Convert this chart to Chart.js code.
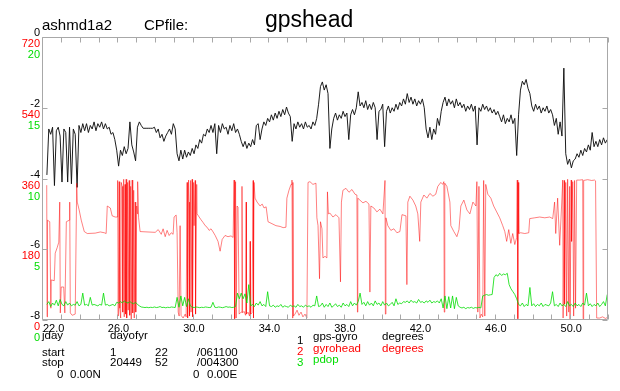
<!DOCTYPE html>
<html>
<head>
<meta charset="utf-8">
<script src="https://cdn.jsdelivr.net/npm/chart.js@4.4.1/dist/chart.umd.min.js"></script>
<style>
  html, body { margin: 0; padding: 0; background: #fff; }
  #wrap { position: relative; width: 620px; height: 391px; font-family: "Liberation Sans", Arial, Helvetica, sans-serif; }
  #wrap canvas { position: absolute; left: 0; top: 0; }
  .t { position: absolute; white-space: pre; line-height: 1; font-size: 11.5px; color: #000; }
  .red { color: #f00; }
  .grn { color: #0d0; }
</style>
</head>
<body>
<div id="wrap">
  <canvas id="chart" width="620" height="391"></canvas>

  <div class="t" style="left:42px;top:17px;font-size:15px">ashmd1a2</div>
  <div class="t" style="left:144px;top:17px;font-size:15px">CPfile:</div>
  <div class="t" style="left:265px;top:8px;font-size:23px">gpshead</div>

  <div class="t" style="left:42px;top:330px">jday</div>
  <div class="t" style="left:110px;top:330px">dayofyr</div>
  <div class="t" style="left:42px;top:347px">start</div>
  <div class="t" style="left:110px;top:347px">1</div>
  <div class="t" style="left:155px;top:347px">22</div>
  <div class="t" style="left:197px;top:347px">/061100</div>
  <div class="t" style="left:42px;top:357px">stop</div>
  <div class="t" style="left:110px;top:357px">20449</div>
  <div class="t" style="left:155px;top:357px">52</div>
  <div class="t" style="left:197px;top:357px">/004300</div>
  <div class="t" style="left:57px;top:369px">0</div>
  <div class="t" style="left:70px;top:369px">0.00N</div>
  <div class="t" style="left:193px;top:369px">0</div>
  <div class="t" style="left:207px;top:369px">0.00E</div>

  <div class="t" style="left:297px;top:335px">1</div>
  <div class="t" style="left:313px;top:331px">gps-gyro</div>
  <div class="t" style="left:382px;top:331px">degrees</div>
  <div class="t red" style="left:297px;top:346px">2</div>
  <div class="t red" style="left:313px;top:343px">gyrohead</div>
  <div class="t red" style="left:382px;top:343px">degrees</div>
  <div class="t grn" style="left:297px;top:357px">3</div>
  <div class="t grn" style="left:313px;top:354px">pdop</div>
</div>
<script>
// sample grid for gps-gyro and pdop (decimal day of year)
const dayStart = 22.26;
const dayStep = 0.1;

// gps-gyro, degrees, one value per 0.1 day
const gpsGyro = [
  -3.9, -2.6, -2.75, -2.55, -4.2, -2.65, -2.55, -2.8, -4.1, -2.6,
  -2.7, -4.1, -2.55, -4.15, -2.6, -2.75, -4.25, -2.5, -2.7, -2.45,
  -2.65, -2.45, -2.7, -2.5, -2.6, -2.4, -2.65, -2.45, -2.55, -2.4,
  -2.6, -2.45, -2.6, -2.55, -2.75, -2.7, -2.9, -3.2, -3.65, -3.2,
  -3.35, -3.1, -3.3, -3.15, -2.4, -3.05, -3.25, -3.5, -2.55, -2.4,
  -2.5, -2.58, -2.58, -2.58, -2.58, -2.58, -2.58, -2.55, -2.7, -2.6,
  -2.85, -2.75, -2.95, -2.8, -2.7, -2.6, -2.75, -2.45, -2.6, -3.3,
  -3.5, -3.2, -3.45, -3.2, -3.4, -3.25, -3.35, -3.15, -3.3, -3.05,
  -3.15, -2.9, -3.0, -2.75, -2.8, -2.6, -2.7, -2.5, -2.7, -2.45,
  -3.3, -2.5, -2.7, -2.45, -2.6, -2.55, -2.75, -2.5, -2.65, -2.45,
  -2.7, -2.6, -2.75, -2.95, -3.1, -2.95, -3.15, -3.0, -3.1, -2.9,
  -3.05, -2.5, -2.45, -2.9, -2.6, -2.4, -2.5, -2.3, -2.4, -2.2,
  -2.35, -2.15, -2.3, -2.1, -2.25, -2.05, -2.2, -1.98, -2.15, -2.25,
  -2.95, -2.45, -2.6, -2.4, -2.55, -2.45, -2.6, -2.4, -2.55, -2.5,
  -2.6, -2.4, -2.5, -2.3, -1.9, -1.4, -1.27, -1.5, -1.35, -1.6,
  -3.15, -2.6, -2.3, -2.15, -2.35, -2.2, -2.3, -2.1, -2.25, -2.15,
  -2.9, -2.2, -2.05, -2.2, -2.0, -1.55, -1.95, -1.85, -2.0, -1.8,
  -2.05, -1.9, -2.05, -1.85, -2.0, -2.9, -2.1, -2.05, -1.9, -3.1,
  -2.1, -1.95, -2.15, -2.0, -2.1, -1.9, -2.05, -1.85, -1.95, -1.75,
  -1.9, -1.6, -1.85, -1.7, -1.9, -1.75, -1.95, -1.8, -1.9, -1.75,
  -2.0, -2.6, -2.85, -2.55, -2.9, -2.6, -2.75, -2.3, -2.5, -2.1,
  -1.85, -1.7, -1.95, -1.75, -1.9, -1.8, -2.0, -1.75, -1.95, -1.85,
  -2.0, -1.9, -2.1, -1.95, -2.05, -1.9, -2.1, -1.95, -3.05, -2.0,
  -2.1, -1.9, -2.05, -1.95, -2.1, -2.0, -2.15, -2.05, -2.2, -2.1,
  -2.25, -2.4, -2.2, -2.45, -2.3, -2.4, -2.2, -2.45, -2.3, -3.35,
  -2.2, -1.5, -1.25, -1.35, -1.2, -1.45, -1.6, -1.95, -2.1, -1.9,
  -2.05, -1.95, -2.15, -2.0, -2.1, -1.95, -2.15, -2.05, -2.2, -2.5,
  -2.3, -2.75, -2.4, -2.8, -0.88, -3.3, -3.6, -3.45, -3.7, -3.5,
  -3.45, -3.3, -3.4, -3.2, -3.35, -3.15, -3.25, -3.05, -3.2, -2.7,
  -3.1, -2.95, -3.1, -2.9, -3.05, -2.85, -3.0, -2.9
];

// pdop, one value per 0.1 day
const pdop = [
  1.1, 1.3, 0.95, 1.2, 1.05, 1.4, 1.0, 1.45, 1.1, 1.0,
  1.3, 1.05, 1.2, 1.0, 1.1, 1.05, 1.3, 1.0, 1.1, 1.9,
  1.05, 1.1, 1.0, 1.6, 1.05, 1.1, 1.05, 1.0, 1.1, 1.05,
  1.9, 1.05, 1.1, 1.0, 1.05, 1.1, 1.0, 1.25, 1.2, 1.3,
  1.2, 1.35, 1.25, 1.2, 1.3, 1.2, 1.15, 1.25, 1.1, 1.0,
  0.92, 0.9, 0.88, 0.9, 0.87, 0.9, 0.88, 0.92, 0.88, 0.9,
  0.95, 0.88, 0.9, 0.86, 0.9, 0.88, 0.92, 0.9, 0.88, 1.6,
  0.9, 1.7, 1.0, 1.6, 0.95, 1.5, 1.0, 0.9, 0.88, 0.92,
  0.9, 0.87, 0.9, 0.88, 0.92, 0.9, 0.88, 0.9, 1.25, 0.9,
  0.88, 0.92, 0.9, 0.87, 0.9, 0.95, 0.9, 0.92, 0.88, 0.9,
  0.95, 1.9, 1.5, 1.9, 1.5, 1.85, 1.2, 2.5, 1.0, 1.1,
  0.95, 1.2, 1.05, 1.3, 1.0, 1.1, 0.95, 2.0, 1.0, 0.95,
  1.05, 0.9, 1.0, 0.95, 1.1, 0.9, 1.0, 0.95, 0.9, 1.05,
  0.95, 1.0, 0.9, 1.1, 0.95, 1.0, 0.9, 1.05, 0.95, 1.0,
  0.9, 1.05, 1.0, 1.7, 0.95, 1.0, 1.2, 0.9, 1.1, 0.95,
  1.2, 0.9, 1.0, 1.15, 0.95, 1.05, 0.9, 1.2, 1.0, 1.1,
  0.95, 1.3, 1.0, 1.2, 1.05, 1.3, 1.9, 1.1, 1.25, 1.0,
  1.3, 1.05, 1.2, 1.0, 1.35, 1.1, 1.2, 1.0, 1.3, 1.05,
  1.2, 1.0, 1.1, 1.25, 1.0, 1.5, 1.1, 1.2, 1.15, 1.3,
  1.25, 1.35, 1.2, 1.4, 1.25, 1.3, 1.2, 1.45, 1.25, 1.3,
  1.2, 1.35, 1.25, 1.4, 1.2, 1.3, 1.25, 1.35, 1.2, 1.5,
  0.85, 1.7, 0.8, 1.65, 0.85, 1.7, 0.8, 1.6, 1.0, 0.9,
  0.85, 0.9, 0.8, 0.88, 0.85, 0.9, 0.82, 0.88, 0.85, 0.9,
  0.85, 1.7, 1.75, 1.8, 1.75, 1.78, 1.8, 3.0, 3.2, 3.1,
  3.3, 3.15, 3.25, 3.2, 3.3, 2.5, 2.2, 2.0, 1.8, 1.5,
  1.1, 1.0, 1.2, 0.95, 1.1, 1.0, 2.3, 1.0, 1.15, 0.95,
  1.1, 1.0, 1.2, 0.95, 1.1, 1.05, 1.0, 1.2, 2.0, 1.0,
  1.1, 0.95, 1.2, 1.0, 1.1, 0.95, 1.3, 1.0, 1.1, 0.95,
  1.2, 1.0, 1.1, 0.95, 1.2, 1.05, 1.9, 1.0, 1.15, 0.95,
  1.1, 1.0, 1.2, 0.95, 1.1, 1.3, 1.0, 1.8
];

// gyrohead, [day, degrees] (irregular: wraps between 0 and 360)
const gyrohead = [
  [22.25,343],[22.27,8],[22.29,254],[22.41,250],[22.47,30],[22.49,102],[22.65,100],[22.70,170],[22.81,185],[22.89,198],
  [22.94,300],[22.97,18],[23.02,84],[23.15,84],[23.21,18],[23.29,250],[23.45,254],[23.47,300],[23.50,18],[23.60,12],
  [23.76,15],[23.84,348],[23.87,300],[23.97,280],[24.08,254],[24.24,225],[24.40,220],[24.82,221],[25.09,224],[25.30,222],
  [25.40,220],[25.46,290],[25.62,285],[25.72,265],[25.88,262],
  [25.99,262],[26.01,355],[26.04,10],[26.09,352],[26.12,30],[26.17,5],[26.20,350],[26.25,340],[26.28,20],[26.33,358],
  [26.36,8],[26.40,345],[26.43,15],[26.46,358],[26.49,5],[26.54,350],[26.57,25],[26.62,355],[26.65,12],[26.70,340],
  [26.73,2],[26.78,356],[26.81,18],[26.86,330],[26.89,5],[26.94,300],[26.97,20],[27.02,290],[27.05,270],
  [27.07,352],[27.12,260],[27.20,225],[28.00,223],[28.16,230],[28.32,218],[28.42,232],[28.53,212],[28.63,228],[28.74,215],
  [28.85,222],[28.95,218],[29.00,262],[29.11,267],[29.16,222],
  [29.22,20],[29.27,10],[29.32,240],[29.37,12],[29.48,5],[29.59,15],[29.64,8],
  [29.69,350],[29.72,5],[29.77,356],[29.80,300],[29.82,10],[29.88,355],[29.90,20],[29.96,358],[29.98,8],[30.04,350],
  [30.06,240],[30.12,355],[30.14,15],[30.20,345],[30.22,270],
  [30.33,262],[30.43,255],[30.54,248],[30.65,240],[30.75,236],[30.86,228],[30.96,232],[31.07,224],
  [31.18,215],[31.33,200],[31.44,175],[31.55,205],[31.70,215],[31.86,212],[32.02,214],[32.13,210],
  [32.18,356],[32.21,3],[32.26,352],[32.29,5],[32.34,290],
  [32.39,287],[32.45,15],[32.55,20],[32.60,340],[32.63,18],[32.71,22],[32.79,12],[32.82,300],[32.84,15],[32.92,20],
  [33.00,10],[33.03,200],[33.05,14],[33.13,18],
  [33.19,355],[33.21,5],[33.24,350],[33.29,310],[33.40,300],[33.56,290],[33.67,295],[33.77,285],[33.88,288],
  [33.98,250],[34.19,245],[34.40,240],[34.62,238],[34.78,235],[34.93,236],
  [34.98,310],[35.09,330],[35.20,345],[35.25,356],[35.28,5],[35.30,350],[35.33,10],
  [35.41,15],[35.52,25],[35.62,12],[35.73,20],[35.83,8],[35.94,15],[36.04,5],
  [36.10,350],[36.20,352],[36.36,345],[36.52,348],
  [36.57,260],[36.63,240],[36.71,105],[36.76,250],[36.84,232],
  [36.89,158],[37.00,162],[37.10,158],[37.13,326],[37.18,270],
  [37.26,272],[37.42,262],[37.58,268],[37.74,260],[37.82,97],[37.87,300],
  [37.95,330],[38.11,335],[38.27,325],[38.43,332],[38.59,320],
  [38.69,318],[38.72,20],[38.74,310],
  [38.85,305],[39.01,298],[39.17,302],[39.33,295],[39.38,71],[39.43,290],
  [39.59,285],[39.75,275],[39.91,282],[40.07,270],[40.18,355],[40.20,15],[40.23,260],
  [40.33,240],[40.49,228],[40.65,232],[40.81,222],[40.97,225],[41.08,268],
  [41.29,265],[41.34,90],[41.39,300],[41.50,315],[41.66,305],[41.81,290],[41.92,270],[42.02,200],[42.08,300],
  [42.24,318],[42.40,310],[42.56,322],[42.72,315],[42.87,320],
  [42.98,340],[43.14,350],[43.24,345],[43.30,352],[43.32,20],[43.35,348],[43.46,340],
  [43.62,300],[43.67,240],[43.83,225],[43.99,212],[44.10,230],
  [44.20,290],[44.36,305],[44.52,280],[44.68,270],[44.84,300],[45.00,290],
  [45.05,352],[45.10,20],[45.16,340],[45.21,5],[45.28,15],[45.36,8],[45.41,355],[45.47,10],[45.52,345],
  [45.63,320],[45.79,310],
  [45.94,290],[46.10,275],[46.26,260],[46.42,240],
  [46.53,225],[46.63,200],[46.74,230],[46.85,195],[46.95,220],[47.06,192],[47.16,210],
  [47.19,356],[47.22,3],[47.24,350],[47.27,220],
  [47.37,222],[47.59,220],[47.80,222],
  [47.85,258],[48.12,260],[48.38,262],[48.65,260],[48.91,262],[49.07,258],
  [49.17,300],[49.23,220],[49.33,310],[49.44,190],[49.54,290],
  [49.60,356],[49.62,5],[49.68,355],[49.70,40],[49.76,350],[49.81,10],[49.86,358],[49.92,20],[49.97,340],[49.99,2],
  [50.05,356],[50.07,200],[50.13,352],[50.18,10],[50.23,355],[50.28,30],[50.34,356],
  [50.50,356],[50.66,357],[50.68,3],[50.71,355],[50.92,357],[51.03,356],[51.13,355],[51.29,356],[51.34,354],[51.40,5],
  [51.56,5],[51.71,8],[51.87,4],[51.98,7]
];

// axis ranges and tick labels
const dayMin = 22, dayMax = 52;
const dayLabels = { 22: '       22.0', 26: '26.0', 30: '30.0', 34: '34.0', 38: '38.0', 42: '42.0', 46: '46.0', 50: '50.0' };
const gpsRange = [-8, 0], gpsStep = 2;
const headRange = [0, 720], headStep = 180;
const pdopRange = [0, 20], pdopStep = 5;

const RED = '#ff0000';
const GREEN = '#00dd00';
const AXIS = '#a8a8a8';

const onGrid = vals => vals.map((v, i) => ({ x: dayStart + i * dayStep, y: v }));

// the three left axes share one slot; give their labels room to the left
const sharedLeft = {
  id: 'sharedLeft',
  afterLayout(chart) {
    ['yg', 'yh', 'yp'].forEach(id => {
      const s = chart.scales[id];
      s.left = 0;
      s.width = s.right;
    });
  }
};

// frame and inward tick marks, drawn from the library's scale ticks
const frameTicks = {
  id: 'frameTicks',
  afterDatasetsDraw(chart) {
    const { ctx, chartArea: a, scales } = chart;
    const L = Math.round(a.left) + 0.5, R = Math.round(a.right) - 0.5;
    const T = Math.round(a.top) + 0.5, B = Math.round(a.bottom) - 0.5;
    ctx.save();
    ctx.strokeStyle = AXIS;
    ctx.lineWidth = 1;
    ctx.beginPath();
    ctx.rect(L, T, R - L, B - T);
    scales.x.ticks.forEach((t, i) => {
      const px = Math.round(scales.x.getPixelForTick(i)) + 0.5;
      ctx.moveTo(px, T); ctx.lineTo(px, T + 5);
      ctx.moveTo(px, B); ctx.lineTo(px, B - 5);
    });
    scales.yg.ticks.forEach((t, i) => {
      const py = Math.round(scales.yg.getPixelForTick(i)) + 0.5;
      ctx.moveTo(L, py); ctx.lineTo(L + 5, py);
      ctx.moveTo(R, py); ctx.lineTo(R - 5, py);
    });
    ctx.stroke();
    ctx.restore();
  }
};

const leftAxis = (min, max, step, color, offset) => ({
  type: 'linear',
  position: 'left',
  min: min, max: max,
  afterFit: s => { s.width = 0; },
  grid: { display: false, drawTicks: false },
  border: { display: false },
  ticks: { stepSize: step, color: color, padding: 2, labelOffset: offset, autoSkip: false,
           font: { size: 11 } }
});

Chart.defaults.font.family = '"Liberation Sans", Arial, Helvetica, sans-serif';

new Chart(document.getElementById('chart'), {
  type: 'line',
  data: {
    datasets: [
      { label: 'pdop', data: onGrid(pdop), yAxisID: 'yp', borderColor: GREEN,
        borderWidth: 0.8, pointRadius: 0, order: 0 },
      { label: 'gyrohead', data: gyrohead.map(p => ({ x: p[0], y: p[1] })), yAxisID: 'yh',
        borderColor: RED, borderWidth: 0.5, pointRadius: 0, order: 1 },
      { label: 'gps-gyro', data: onGrid(gpsGyro), yAxisID: 'yg', borderColor: '#111',
        borderWidth: 0.95, pointRadius: 0, order: 2 }
    ]
  },
  options: {
    responsive: false,
    animation: false,
    events: [],
    layout: { padding: { left: 42, top: 37, right: 12, bottom: 51 } },
    plugins: { legend: { display: false }, tooltip: { enabled: false } },
    elements: { line: { tension: 0 } },
    scales: {
      x: {
        type: 'linear',
        min: dayMin, max: dayMax,
        afterFit: s => { s.height = 20; },
        grid: { display: false, drawTicks: false },
        border: { display: false },
        ticks: {
          stepSize: 1, autoSkip: false, maxRotation: 0, padding: 2, color: '#000',
          font: { size: 11 }, labelOffset: 1,
          callback: v => dayLabels[v] || ''
        }
      },
      yg: leftAxis(gpsRange[0], gpsRange[1], gpsStep, '#000', -4),
      yh: leftAxis(headRange[0], headRange[1], headStep, RED, 7),
      yp: leftAxis(pdopRange[0], pdopRange[1], pdopStep, GREEN, 18)
    }
  },
  plugins: [sharedLeft, frameTicks]
});
</script>
</body>
</html>
